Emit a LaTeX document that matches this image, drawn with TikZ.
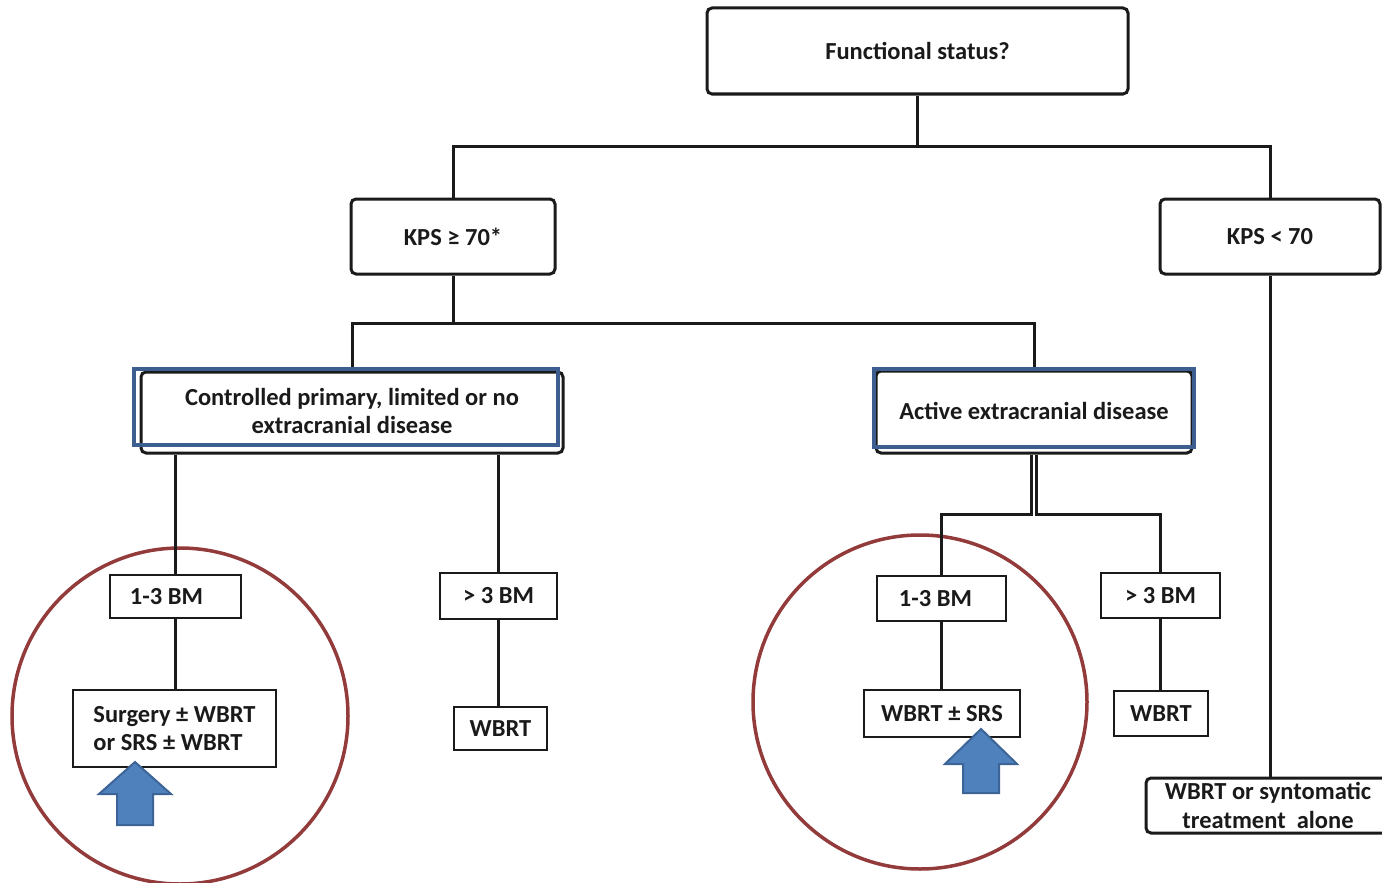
\documentclass[tikz,border=0pt]{standalone}
\usepackage{fontspec}
\setmainfont{Carlito}
\definecolor{ink}{HTML}{1A1A1A}
\definecolor{boxblue}{HTML}{3D5F8F}
\definecolor{circred}{HTML}{933B3B}
\definecolor{arrfill}{HTML}{4F81BD}
\definecolor{arrdraw}{HTML}{3C6497}
\begin{document}
\begin{tikzpicture}[x=1pt,y=-1pt,
  box/.style={draw=ink, line width=2.6pt, fill=white, text=ink,
    font=\fontsize{24.5}{28.5}\selectfont\bfseries, align=center, inner sep=0pt},
  bigbox/.style={box, line width=3pt, rounded corners=5pt},
  bluebox/.style={draw=boxblue, line width=4pt, inner sep=0pt},
  conn/.style={draw=ink, line width=3pt},
  ring/.style={draw=circred, line width=3.5pt},
  uparrow/.style={fill=arrfill, draw=arrdraw, line width=2pt, line join=miter}]
\useasboundingbox (0,0) rectangle (1382,883);

% red circles (behind)
\draw[ring] (180,716) circle[radius=168];
\draw[ring] (920,702) circle[radius=167];

% nodes
\node[bigbox, minimum width=421, minimum height=86] (fs) at (917.5,51) {Functional status?};
\node[bigbox, minimum width=204, minimum height=75] (kps1) at (453,236.5) {KPS ≥ 70*};
\node[bigbox, minimum width=220, minimum height=75] (kps2) at (1270,236.5) {KPS < 70};

\node[bigbox, minimum width=422, minimum height=81] (ctrl) at (352,412.5) {};
\node[bluebox, minimum width=424, minimum height=76] (ctrlb) at (346,407) {};
\node[box, draw=none, fill=none] (ctrlt) at (352,411) {Controlled primary, limited or no\\extracranial disease};

\node[bigbox, minimum width=316, minimum height=82] (act) at (1034,412) {};
\node[bluebox, minimum width=320, minimum height=78] (actb) at (1034,408) {};
\node[box, draw=none, fill=none] (actt) at (1034,411) {Active extracranial disease};

\node[box, minimum width=131, minimum height=43] (bm1) at (175.5,596.5) {1-3 BM\hspace*{18pt}};
\node[box, minimum width=203, minimum height=77, align=left] (surg) at (174.5,728.5) {Surgery ± WBRT\\or SRS ± WBRT\hspace*{8pt}};
\node[box, minimum width=117, minimum height=46] (bm2) at (498.5,596) {> 3 BM};
\node[box, minimum width=93, minimum height=43] (wb1) at (500.5,728.5) {WBRT};

\node[box, minimum width=129, minimum height=45] (bm3) at (941.5,598.5) {1-3 BM\hspace*{12pt}};
\node[box, minimum width=156, minimum height=47] (srs) at (942,713.5) {WBRT ± SRS};
\node[box, minimum width=119, minimum height=45] (bm4) at (1160.5,595.5) {> 3 BM};
\node[box, minimum width=94, minimum height=45] (wb2) at (1161,713.5) {WBRT};

\node[bigbox, minimum width=244, minimum height=55] (wb3) at (1268,805.5) {WBRT or syntomatic\\treatment\ \ alone};

% connectors
\coordinate (bar1) at (0,146);
\coordinate (bar2) at (0,323);
\coordinate (bar3) at (0,514);
\draw[conn] (fs.south) -- (fs.south |- bar1);
\draw[conn] (kps1.north) -- (kps1.north |- bar1) -- (kps2.north |- bar1) -- (kps2.north);
\draw[conn] (kps1.south) -- (kps1.south |- bar2);
\draw[conn] (ctrl.north |- ctrlb.north) -- (ctrl.north |- bar2) -- (act.north |- bar2) -- (act.north |- actb.north);
\draw[conn] (bm1.north) -- (bm1.north |- ctrl.south);
\draw[conn] (bm2.north) -- (bm2.north |- ctrl.south);
\draw[conn] (bm1.south) -- (bm1.south |- surg.north);
\draw[conn] (bm2.south) -- (bm2.south |- wb1.north);
\draw[conn] ([xshift=-2.5]act.south) -- ([xshift=-2.5]act.south |- bar3) -- (bm3.north |- bar3) -- (bm3.north);
\draw[conn] ([xshift=2.5]act.south) -- ([xshift=2.5]act.south |- bar3) -- (bm4.north |- bar3) -- (bm4.north);
\draw[conn] (bm3.south) -- (bm3.south |- srs.north);
\draw[conn] (bm4.south) -- (bm4.south |- wb2.north);
\draw[conn] (kps2.south) -- (kps2.south |- wb3.north);

% blue arrows
\draw[uparrow] (135,762) -- (171,794) -- (153,794) -- (153,825) -- (117,825) -- (117,794) -- (99,794) -- cycle;
\draw[uparrow] (981,729) -- (1017,764) -- (999,764) -- (999,793) -- (963,793) -- (963,764) -- (945,764) -- cycle;
\end{tikzpicture}
\end{document}
